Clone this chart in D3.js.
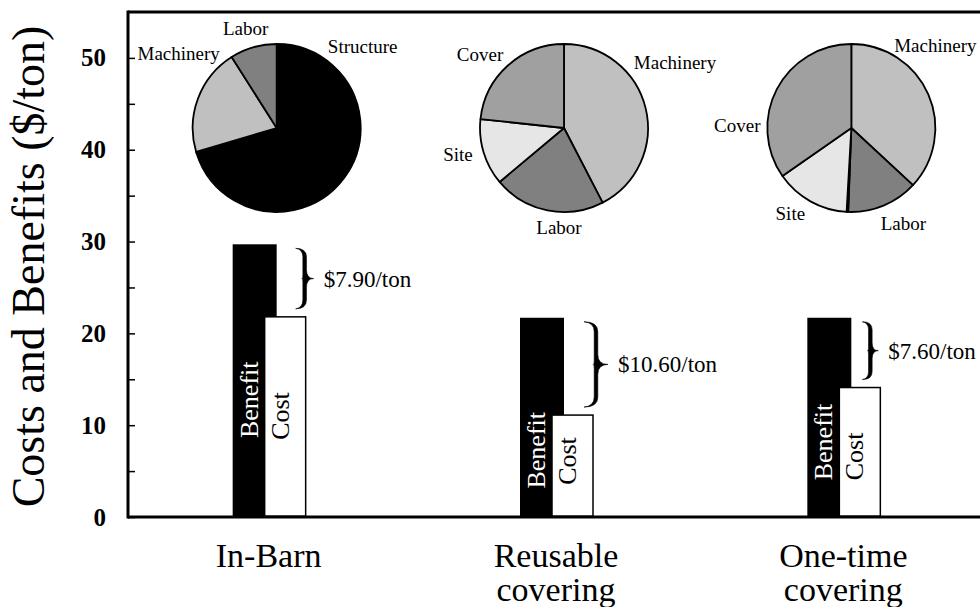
<!DOCTYPE html>
<html>
<head>
<meta charset="utf-8">
<script src="https://cdn.jsdelivr.net/npm/d3@7/dist/d3.min.js"></script>
<style>
  html, body { margin: 0; padding: 0; background: #fff; }
  svg text { font-family: "Liberation Serif", "Times New Roman", serif; }
</style>
</head>
<body>
<svg id="chart" width="980" height="607"></svg>
<script>
// ---------- data ----------
const categories = ["In-Barn", "Reusable covering", "One-time covering"];
const benefit = [29.7, 21.7, 21.7];
const cost = [21.8, 11.1, 14.1];
const netLabels = ["$7.90/ton", "$10.60/ton", "$7.60/ton"];
const yTicks = [0, 5, 10, 15, 20, 25, 30, 35, 40, 45, 50];

// pie shares (percent), clockwise from 12 o'clock
const pieNames = [
  ["Structure", "", "Machinery", "Labor"],
  ["Machinery", "Labor", "Site", "Cover"],
  ["Machinery", "Labor", "", "Site", "Cover"]
];
const pieValues = [
  [70.1, 0.3, 20.6, 9.0],
  [42.4, 21.5, 12.8, 23.3],
  [36.9, 13.7, 0.3, 14.4, 34.7]
];

// ---------- layout / style (not data) ----------
const W = 980, H = 607;
const FONT = "'Liberation Serif', 'Times New Roman', serif";
const fills = { Structure: "#000", Machinery: "#c0c0c0", Labor: "#808080", Cover: "#a0a0a0", Site: "#e6e6e6", "": "#fff" };
const pieLabelOffsets = [
  { Structure: [86, -75], Machinery: [-98, -68], Labor: [-31, -93] },
  { Cover: [-84, -67], Machinery: [111, -59], Site: [-106, 33], Labor: [-5, 106] },
  { Machinery: [84, -76], Cover: [-114, 4], Site: [-61, 92], Labor: [52, 102] }
];
const benefitTextStart = [8.6, 3.1, 4.0];
const costTextStart = [8.4, 3.5, 4.0];
const braceDx = [27, 28, 19];
const braceW = [18, 24, 16];

const svg = d3.select("#chart").attr("font-family", FONT);

const y = d3.scaleLinear().domain([0, 55]).range([517, 12]);
const x = d3.scaleBand().domain(categories).range([125, 987]).padding(0);
const cx = c => x(c) + x.bandwidth() / 2;

// ---------- frame ----------
const axisX = 128;
svg.append("line").attr("x1", axisX).attr("x2", W + 5).attr("y1", y(55)).attr("y2", y(55))
  .attr("stroke", "#000").attr("stroke-width", 3);
svg.append("line").attr("x1", axisX).attr("x2", W + 5).attr("y1", y(0)).attr("y2", y(0))
  .attr("stroke", "#000").attr("stroke-width", 3);

const yAxis = d3.axisLeft(y)
  .tickValues(yTicks)
  .tickSize(-7)
  .tickPadding(22)
  .tickFormat(v => v % 10 === 0 ? v : "");
const gy = svg.append("g").attr("transform", `translate(${axisX},0)`).call(yAxis);
gy.attr("font-family", FONT);
gy.select(".domain").attr("stroke-width", 3).attr("d", `M0,${y(0) + 1.5}V${y(55) - 1.5}`);
gy.selectAll(".tick line").attr("stroke-width", 1.5);
gy.selectAll(".tick text")
  .attr("font-family", FONT)
  .attr("font-size", 25).attr("font-weight", "bold").attr("fill", "#000");

svg.append("text")
  .attr("transform", `translate(44,${(y(0) + y(55)) / 2 + 2}) rotate(-90)`)
  .attr("text-anchor", "middle")
  .attr("font-family", FONT)
  .attr("font-size", 46)
  .text("Costs and Benefits ($/ton)");

// ---------- bars ----------
const bars = svg.append("g").attr("font-family", FONT);
categories.forEach((c, i) => {
  const m = cx(c);
  bars.append("rect")
    .attr("x", m - 36).attr("width", 44)
    .attr("y", y(benefit[i])).attr("height", y(0) - y(benefit[i]))
    .attr("fill", "#000");
  bars.append("rect")
    .attr("x", m - 4).attr("width", 41)
    .attr("y", y(cost[i])).attr("height", y(0) - y(cost[i]) - 1)
    .attr("fill", "#fff").attr("stroke", "#000").attr("stroke-width", 1.5);
  bars.append("text")
    .attr("transform", `translate(${m - 11},${y(benefitTextStart[i])}) rotate(-90)`)
    .attr("font-size", 26).attr("fill", "#fff").text("Benefit");
  bars.append("text")
    .attr("transform", `translate(${m + 20},${y(costTextStart[i])}) rotate(-90)`)
    .attr("font-size", 26).attr("fill", "#000").text("Cost");

  // brace
  const x0 = m + braceDx[i], w = braceW[i];
  const y1 = y(benefit[i]) + 4, y2 = y(cost[i]) - 8, ym = (y1 + y2) / 2;
  const xm = x0 + w / 2, t = 3.6, r = Math.min(w / 2, 10);
  const d = `M${x0},${y1}` +
    `Q${xm + t / 2},${y1} ${xm + t / 2},${y1 + r}` +
    `L${xm + t / 2},${ym - r}` +
    `Q${xm + t / 2},${ym} ${x0 + w},${ym}` +
    `Q${xm + t / 2},${ym} ${xm + t / 2},${ym + r}` +
    `L${xm + t / 2},${y2 - r}` +
    `Q${xm + t / 2},${y2} ${x0},${y2}` +
    `Q${xm - t / 2},${y2 - 1} ${xm - t / 2},${y2 - r}` +
    `L${xm - t / 2},${ym + r * 0.4}` +
    `Q${xm - t / 2},${ym} ${xm - t / 2 - 1},${ym}` +
    `Q${xm - t / 2},${ym} ${xm - t / 2},${ym - r * 0.4}` +
    `L${xm - t / 2},${y1 + r}` +
    `Q${xm - t / 2},${y1 + 1} ${x0},${y1}Z`;
  bars.append("path").attr("d", d).attr("fill", "#000").attr("stroke", "#000").attr("stroke-width", 0.6);
  bars.append("text")
    .attr("x", x0 + w + 10).attr("y", ym + 8)
    .attr("font-size", 23).text(netLabels[i]);
});

// ---------- category labels ----------
categories.forEach(c => {
  const words = c.split(" ");
  const t = svg.append("text").attr("text-anchor", "middle")
    .attr("font-family", FONT).attr("font-size", 34);
  words.forEach((wd, k) => {
    t.append("tspan").attr("x", cx(c)).attr("y", 567 + k * 34).text(wd);
  });
});

// ---------- pies ----------
const pie = d3.pie().sort(null).value(d => d.v).startAngle(0).endAngle(2 * Math.PI);
const arc = d3.arc().innerRadius(0).outerRadius(84);
categories.forEach((c, i) => {
  const pcx = cx(c) + 8, pcy = 128;
  const g = svg.append("g").attr("transform", `translate(${pcx},${pcy})`).attr("font-family", FONT);
  const data = pieNames[i].map((n, k) => ({ n, v: pieValues[i][k] }));
  g.selectAll("path").data(pie(data)).join("path")
    .attr("d", arc)
    .attr("fill", d => fills[d.data.n])
    .attr("stroke", "#000")
    .attr("stroke-width", 1.8)
    .attr("stroke-linejoin", "round");
  data.forEach(d => {
    if (!d.n) return;
    const off = pieLabelOffsets[i][d.n];
    g.append("text").attr("x", off[0]).attr("y", off[1])
      .attr("text-anchor", "middle").attr("font-family", FONT)
      .attr("font-size", 19).text(d.n);
  });
});
</script>
</body>
</html>
